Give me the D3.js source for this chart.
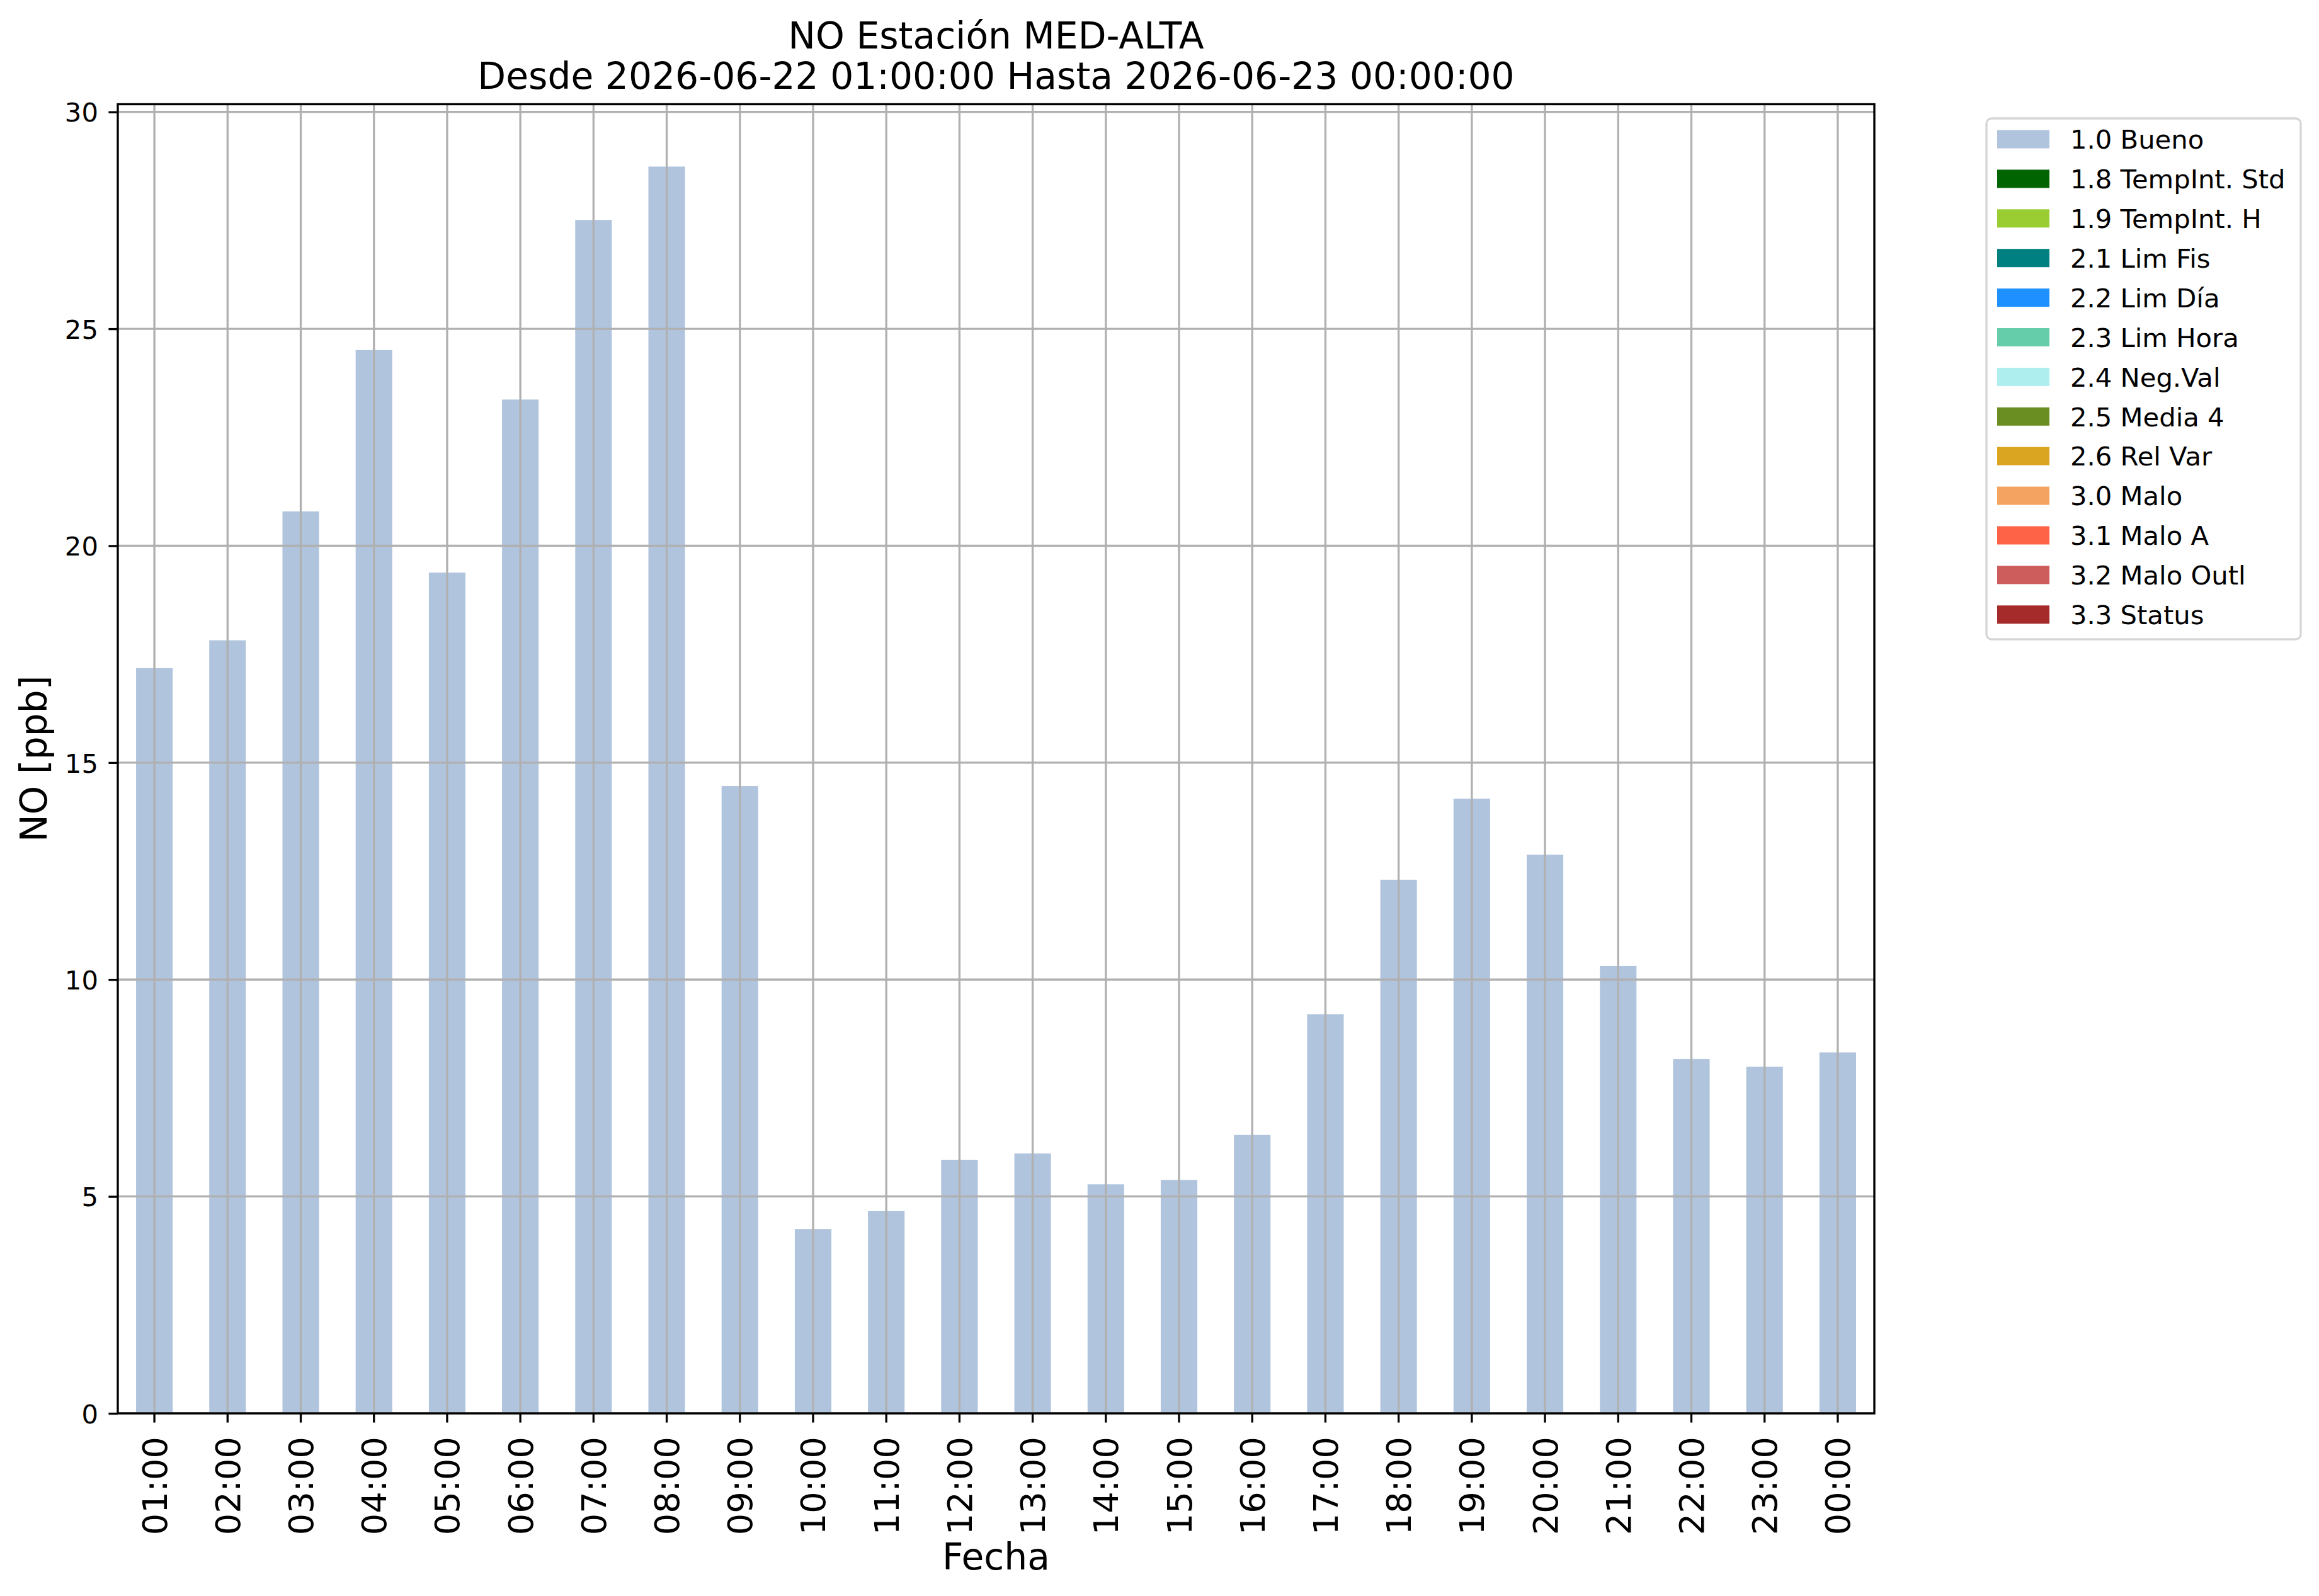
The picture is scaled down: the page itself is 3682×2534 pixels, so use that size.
<!DOCTYPE html>
<html>
<head>
<meta charset="utf-8">
<script src="https://cdn.jsdelivr.net/npm/d3@7"></script>
<style>
  body { margin: 0; background: #fff; }
  svg { display: block; font-family: "DejaVu Sans", sans-serif; }
</style>
</head>
<body>
<div id="grafica_no"></div>
<script>
//------------------------DATA------------------------//
const hours = ["01:00", "02:00", "03:00", "04:00", "05:00", "06:00", "07:00", "08:00",
               "09:00", "10:00", "11:00", "12:00", "13:00", "14:00", "15:00", "16:00",
               "17:00", "18:00", "19:00", "20:00", "21:00", "22:00", "23:00", "00:00"];
const values = [17.18, 17.82, 20.79, 24.51, 19.38, 23.37, 27.51, 28.74,
                14.46, 4.25, 4.66, 5.84, 5.99, 5.28, 5.38, 6.42,
                9.20, 12.30, 14.17, 12.88, 10.31, 8.17, 7.99, 8.32];
const yTicks = [0, 5, 10, 15, 20, 25, 30];
const legendLabels = ["1.0 Bueno", "1.8 TempInt. Std", "1.9 TempInt. H", "2.1 Lim Fis",
                      "2.2 Lim Día", "2.3 Lim Hora", "2.4 Neg.Val", "2.5 Media 4",
                      "2.6 Rel Var", "3.0 Malo", "3.1 Malo A", "3.2 Malo Outl", "3.3 Status"];
const legendColors = ["#b0c4de", "#006400", "#9acd32", "#008080", "#1e90ff", "#66cdaa",
                      "#afeeee", "#6b8e23", "#daa520", "#f4a460", "#ff6347", "#cd5c5c", "#a52a2a"];
const titleLines = ["NO Estación MED-ALTA", "Desde 2026-06-22 01:00:00 Hasta 2026-06-23 00:00:00"];

function loadGraficaNO() {
    //-----------------------------SVG------------------------------//
    const width = 3682;
    const height = 2534;
    const plot = { left: 187, right: 2976, top: 165.5, bottom: 2244 };
    const tickLen = 14.6;
    const lw = 3.33;

    const svg = d3.select("div#grafica_no").append("svg")
        .attr("width", width)
        .attr("height", height)
        .attr("viewBox", "0 0 " + width + " " + height);

    svg.append("rect")
        .attr("width", width)
        .attr("height", height)
        .style("fill", "#fff");

    //----------------------------SCALES----------------------------//
    const xScale = d3.scaleBand()
        .domain(hours)
        .range([plot.left, plot.right])
        .paddingInner(0.5)
        .paddingOuter(0.25);

    const yScale = d3.scaleLinear()
        .domain([0, d3.max(values) * 1.05])
        .range([plot.bottom, plot.top]);

    const xc = function(h) { return xScale(h) + xScale.bandwidth() / 2; };

    //-----------------------------BARS-----------------------------//
    svg.append("g")
        .attr("class", "bars")
        .selectAll("rect")
        .data(hours)
        .enter()
        .append("rect")
        .attr("x", function(d) { return xScale(d); })
        .attr("width", xScale.bandwidth())
        .attr("y", function(d, i) { return yScale(values[i]); })
        .attr("height", function(d, i) { return yScale(0) - yScale(values[i]); })
        .style("fill", legendColors[0]);

    //-----------------------------GRID-----------------------------//
    // grid goes over the bars, like in the original
    const grid = svg.append("g").attr("class", "grid");

    grid.selectAll("line.gx")
        .data(hours)
        .enter()
        .append("line")
        .attr("class", "gx")
        .attr("x1", xc)
        .attr("x2", xc)
        .attr("y1", plot.top)
        .attr("y2", plot.bottom)
        .style("stroke", "#b0b0b0")
        .style("stroke-width", lw);

    grid.selectAll("line.gy")
        .data(yTicks)
        .enter()
        .append("line")
        .attr("class", "gy")
        .attr("x1", plot.left)
        .attr("x2", plot.right)
        .attr("y1", function(d) { return yScale(d); })
        .attr("y2", function(d) { return yScale(d); })
        .style("stroke", "#b0b0b0")
        .style("stroke-width", lw);

    //-----------------------------AXES-----------------------------//
    const xaxis = d3.axisBottom(xScale)
        .tickSize(tickLen)
        .tickSizeOuter(0);

    const gx = svg.append("g")
        .attr("class", "axis")
        .attr("transform", "translate(0," + plot.bottom + ")")
        .call(xaxis);

    gx.select(".domain").remove();
    gx.selectAll("line").style("stroke", "#000").style("stroke-width", lw);
    gx.selectAll("text")
        .attr("transform", "rotate(-90)")
        .attr("x", -37)
        .attr("y", 0)
        .attr("dy", "0.36em")
        .style("text-anchor", "end")
        .style("font-size", "54.2px")
        .style("font-family", "DejaVu Sans")
        .style("fill", "#000");

    const yaxis = d3.axisLeft(yScale)
        .tickValues(yTicks)
        .tickFormat(d3.format("d"))
        .tickSize(tickLen)
        .tickSizeOuter(0);

    const gy = svg.append("g")
        .attr("class", "axis")
        .attr("transform", "translate(" + plot.left + ",0)")
        .call(yaxis);

    gy.select(".domain").remove();
    gy.selectAll("line").style("stroke", "#000").style("stroke-width", lw);
    gy.selectAll("text")
        .attr("x", -(tickLen + 16.5))
        .attr("dy", "0.365em")
        .style("font-size", "41.7px")
        .style("font-family", "DejaVu Sans")
        .style("fill", "#000");

    // spines
    svg.append("rect")
        .attr("x", plot.left)
        .attr("y", plot.top)
        .attr("width", plot.right - plot.left)
        .attr("height", plot.bottom - plot.top)
        .style("fill", "none")
        .style("stroke", "#000")
        .style("stroke-width", lw);

    //----------------------------TEXTS-----------------------------//
    const cx = (plot.left + plot.right) / 2;

    svg.append("g")
        .selectAll("text")
        .data(titleLines)
        .enter()
        .append("text")
        .attr("x", cx)
        .attr("y", function(d, i) { return 76.5 + i * 64.5; })
        .style("text-anchor", "middle")
        .style("font-size", "58.3px")
        .text(function(d) { return d; });

    svg.append("text")
        .attr("x", cx)
        .attr("y", 2492)
        .style("text-anchor", "middle")
        .style("font-size", "58.3px")
        .text("Fecha");

    svg.append("text")
        .attr("transform", "translate(74," + ((plot.top + plot.bottom) / 2) + ") rotate(-90)")
        .style("text-anchor", "middle")
        .style("font-size", "58.3px")
        .text("NO [ppb]");

    //----------------------------LEGEND----------------------------//
    const leg = { x: 3154, y: 188, w: 499, h: 827, row0: 221, step: 62.9 };

    const legend = svg.append("g").attr("class", "legend");

    legend.append("rect")
        .attr("x", leg.x)
        .attr("y", leg.y)
        .attr("width", leg.w)
        .attr("height", leg.h)
        .attr("rx", 8)
        .style("fill", "#fff")
        .style("fill-opacity", 0.8)
        .style("stroke", "#cccccc")
        .style("stroke-opacity", 0.8)
        .style("stroke-width", lw);

    const items = legend.selectAll("g.item")
        .data(legendLabels)
        .enter()
        .append("g")
        .attr("class", "item")
        .attr("transform", function(d, i) { return "translate(0," + (leg.row0 + i * leg.step) + ")"; });

    items.append("rect")
        .attr("x", 3171)
        .attr("y", -14.5)
        .attr("width", 83)
        .attr("height", 29)
        .style("fill", function(d, i) { return legendColors[i]; });

    items.append("text")
        .attr("x", 3287)
        .attr("dy", "0.365em")
        .style("font-size", "41.7px")
        .text(function(d) { return d; });
}

loadGraficaNO();
</script>
</body>
</html>
